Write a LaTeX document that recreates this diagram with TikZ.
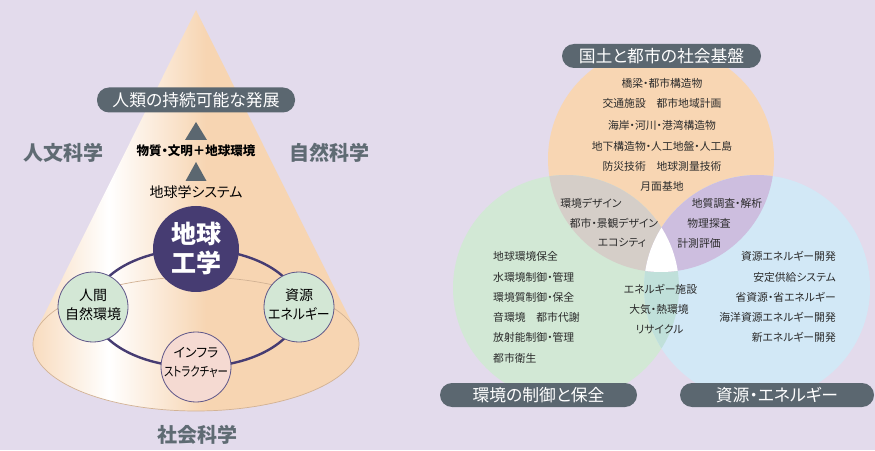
\documentclass[tikz,border=0pt]{standalone}
\usepackage{fontspec}
\usepackage{graphicx}
\setmainfont[RawFeature=+palt]{Noto Sans CJK JP}
\definecolor{bg}{HTML}{E3DBEC}
\definecolor{peach}{HTML}{F7D5B2}
\definecolor{ringc}{HTML}{463C72}
\definecolor{pillc}{HTML}{5B6770}
\definecolor{graytx}{HTML}{5F6B73}
\definecolor{mint}{HTML}{D3E7D5}
\definecolor{cborder}{HTML}{5D5588}
\definecolor{pinkc}{HTML}{F5DAD2}
\definecolor{tanline}{HTML}{D2B294}
\definecolor{vorange}{HTML}{F8D6B3}
\definecolor{vgreen}{HTML}{D2E8D5}
\definecolor{vblue}{HTML}{D2E8F6}
\definecolor{vog}{HTML}{D5CEC8}
\definecolor{vob}{HTML}{CDBEDF}
\definecolor{vgb}{HTML}{C0E0DA}
\definecolor{txt}{HTML}{2B2B2B}
\pgfdeclarehorizontalshading{coneshade}{100bp}{color(0bp)=(peach); color(25bp)=(peach); color(38bp)=(white); color(52bp)=(peach); color(100bp)=(peach)}
\tikzset{
  pill/.style={fill=pillc, rounded corners=12pt, text=white, font=\fontsize{16.8}{18}\selectfont, inner sep=0pt},
  sidelabel/.style={text=graytx, font=\bfseries\fontsize{20}{22}\selectfont, inner sep=0pt},
  smalltx/.style={text=txt, font=\fontsize{10.8}{12}\selectfont, inner sep=0pt},
  circtx/.style={text=black, font=\fontsize{14}{16}\selectfont, inner sep=0pt},
  subcirc/.style={circle, draw=cborder, line width=0.8pt, minimum size=70pt, inner sep=0pt},
  uptri/.style={fill=pillc}
}
\begin{document}
\begin{tikzpicture}[x=1pt,y=1pt]
\useasboundingbox (0,0) rectangle (875,450);
\fill[bg] (0,0) rectangle (875,450);
% ---------- cone ----------
\path[shading=coneshade] (196,440) -- (36.3,119.4) arc[start angle=168.46, end angle=371.54, x radius=163, y radius=67] -- cycle;
\draw[tanline, line width=0.7pt] (36.3,119.4) arc[start angle=168.46, end angle=371.54, x radius=163, y radius=67];
\draw[tanline, line width=0.7pt] (36.3,119.4) arc[start angle=168.46, end angle=11.54, x radius=163, y radius=67];
% ring
\draw[ringc, line width=2.4pt] (196,142) ellipse[x radius=103, y radius=59];
% circles
\node[circle, fill=ringc, minimum size=86pt, inner sep=0pt, align=center, text=white, font=\bfseries\fontsize{25}{29}\selectfont] (geo) at (196,201) {地球\\工学};
\node[subcirc, fill=mint] (hum) at (93,143) {};
\node[subcirc, fill=mint] (res) at (299,143) {};
\node[subcirc, fill=pinkc] (inf) at (196,83) {};
\node[circtx] (hum1) at (93,155) {人間};
\node[circtx] (hum2) at (93,136) {自然環境};
\node[circtx] (res1) at (299,155) {資源};
\node[circtx] (res2) at (299,136) {\scalebox{0.92}[1]{エネルギー}};
\node[circtx, font=\fontsize{13}{15}\selectfont] (inf1) at (196,97) {インフラ};
\node[circtx, font=\fontsize{13}{15}\selectfont] (inf2) at (196,78) {\scalebox{0.8}[1]{ストラクチャー}};
% upper part
\node[pill, minimum width=198pt, minimum height=25pt] (dev) at (196,350) {人類の持続可能な発展};
\fill[uptri] (196,328) -- (185,310) -- (207,310) -- cycle;
\node[text=black, font=\bfseries\fontsize{12.5}{14}\selectfont, inner sep=0pt] (mat) at (196,299) {物質・文明＋地球環境};
\fill[uptri] (196,288) -- (185.5,269) -- (206.5,269) -- cycle;
\node[text=black, font=\fontsize{14}{15}\selectfont, inner sep=0pt] (sys) at (196,258) {地球学システム};
\node[sidelabel] (hs) at (63.5,297) {人文科学};
\node[sidelabel] (ns) at (329.5,297) {自然科学};
\node[sidelabel] (ss) at (197,15) {社会科学};
% ---------- Venn ----------
\coordinate (co) at (661,291);
\coordinate (cg) at (566,162);
\coordinate (cb) at (757,162);
\fill[vorange] (co) circle[radius=113];
\fill[vgreen] (cg) circle[radius=113];
\fill[vblue] (cb) circle[radius=113];
\begin{scope}
  \clip (cg) circle[radius=113];
  \fill[vgb] (cb) circle[radius=113];
\end{scope}
\begin{scope}
  \clip (co) circle[radius=113];
  \fill[vog] (cg) circle[radius=113];
  \fill[vob] (cb) circle[radius=113];
  \clip (cg) circle[radius=113];
  \fill[white] (cb) circle[radius=113];
\end{scope}
\node[pill, minimum width=199pt, minimum height=24pt] (p1) at (661.5,394) {国土と都市の社会基盤};
\node[pill, minimum width=197pt, minimum height=24pt] (p2) at (538.5,55) {環境の制御と保全};
\node[pill, minimum width=194pt, minimum height=24pt] (p3) at (777,55) {資源・エネルギー};
% orange texts
\node[smalltx] (o1) at (662,367) {橋梁・都市構造物};
\node[smalltx] (o2) at (662,347) {交通施設　都市地域計画};
\node[smalltx] (o3) at (662,325) {海岸・河川・港湾構造物};
\node[smalltx] (o4) at (662,304) {地下構造物・人工地盤・人工島};
\node[smalltx] (o5) at (662,284) {防災技術　地球測量技術};
\node[smalltx] (o6) at (662,264) {月面基地};
% orange-green
\node[smalltx] (og1) at (591,247) {環境デザイン};
\node[smalltx] (og2) at (614,227) {都市・景観デザイン};
\node[smalltx] (og3) at (622,207) {エコシティ};
% orange-blue
\node[smalltx] (ob1) at (727,247) {地質調査・解析};
\node[smalltx] (ob2) at (709,227) {物理探査};
\node[smalltx] (ob3) at (699,207) {計測評価};
% green
\node[smalltx, anchor=west] (g1) at (493,194) {地球環境保全};
\node[smalltx, anchor=west] (g2) at (493,173) {水環境制御・管理};
\node[smalltx, anchor=west] (g3) at (493,153) {環境質制御・保全};
\node[smalltx, anchor=west] (g4) at (493,133) {音環境　都市代謝};
\node[smalltx, anchor=west] (g5) at (493,113) {放射能制御・管理};
\node[smalltx, anchor=west] (g6) at (493,92) {都市衛生};
% green-blue
\node[smalltx] (gb1) at (660.5,161) {エネルギー施設};
\node[smalltx] (gb2) at (659,141) {大気・熱環境};
\node[smalltx] (gb3) at (659.5,121) {リサイクル};
% blue
\node[smalltx, anchor=east] (b1) at (836,194) {資源エネルギー開発};
\node[smalltx, anchor=east] (b2) at (836,173) {安定供給システム};
\node[smalltx, anchor=east] (b3) at (836,153) {省資源・省エネルギー};
\node[smalltx, anchor=east] (b4) at (836,133) {海洋資源エネルギー開発};
\node[smalltx, anchor=east] (b5) at (836,113) {新エネルギー開発};
\end{tikzpicture}
\end{document}
